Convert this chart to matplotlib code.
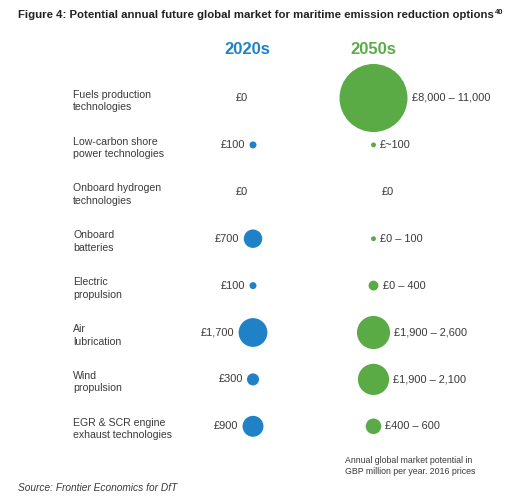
import matplotlib.pyplot as plt
import numpy as np

plt.rcParams["font.family"] = ["Liberation Sans", "DejaVu Sans"]

categories = [
    "Fuels production\ntechnologies",
    "Low-carbon shore\npower technologies",
    "Onboard hydrogen\ntechnologies",
    "Onboard\nbatteries",
    "Electric\npropulsion",
    "Air\nlubrication",
    "Wind\npropulsion",
    "EGR & SCR engine\nexhaust technologies",
]
# 2020s market (GBP million per year) and its labels
values_2020 = [0, 100, 0, 700, 100, 1700, 300, 900]
labels_2020 = ["£0", "£100", "£0", "£700", "£100", "£1,700", "£300", "£900"]
# 2050s market, mid-point of range
values_2050 = [9500, 50, 0, 50, 200, 2250, 2000, 500]
labels_2050 = ["£8,000 – 11,000", "£~100", "£0", "£0 – 100", "£0 – 400",
               "£1,900 – 2,600", "£1,900 – 2,100", "£400 – 600"]
periods = ["2020s", "2050s"]

BLUE = "#1f82c6"
GREEN = "#5aab46"
TEXT = "#3a3a3a"

W, H = 525, 503
fig = plt.figure(figsize=(W / 100, H / 100), dpi=100)
ax = fig.add_axes([0, 0, 1, 1])

# map column/row indices onto the page
col_px = 120.5
row_px = 46.9
x0, y0 = 253, 98
ax.set_xlim(-x0 / col_px, (W - x0) / col_px)
ax.set_ylim((H - y0) / row_px, -y0 / row_px)
ax.axis("off")

SCALE = 0.2523  # pt^2 per GBP million (area proportional)
FS = 7.9


def draw_column(col, vals, labs, color, side):
    for i, (v, lab) in enumerate(zip(vals, labs)):
        if v > 0:
            s = v * SCALE
            ax.scatter(col, i, s=s, color=color, edgecolors="none", zorder=3)
            r = np.sqrt(s) / 2
            off = (r + 3) * side
            ax.annotate(lab, (col, i), xytext=(off, 0), textcoords="offset points",
                        ha="right" if side < 0 else "left", va="center",
                        fontsize=FS, color=TEXT)
        else:
            ax.annotate(lab, (col, i), xytext=(-8 if side < 0 else 10, 0),
                        textcoords="offset points", ha="center", va="center",
                        fontsize=FS, color=TEXT)


draw_column(0, values_2020, labels_2020, BLUE, -1)
draw_column(1, values_2050, labels_2050, GREEN, 1)

for i, cat in enumerate(categories):
    ax.text((73 - x0) / col_px, i + 0.06, cat, ha="left", va="center",
            fontsize=7.6, color=TEXT, linespacing=1.3)

for j, (p, c) in enumerate(zip(periods, [BLUE, GREEN])):
    ax.text(j - 0.05 * (j == 0), (49 - y0) / row_px, p, ha="center", va="center",
            fontsize=12, fontweight="bold", color=c)

title = fig.text(18 / W, 1 - 15 / H,
                 "Figure 4: Potential annual future global market for maritime emission reduction options",
                 ha="left", va="center", fontsize=8.2, fontweight="bold", color="#222222")
fig.canvas.draw()
bb = title.get_window_extent()
fig.text(bb.x1 / W + 0.002, 1 - 12 / H, "40", ha="left", va="center",
         fontsize=5.5, fontweight="bold", color="#222222")
fig.text(345 / W, 1 - 466 / H,
         "Annual global market potential in\nGBP million per year. 2016 prices",
         ha="left", va="center", fontsize=6.3, color=TEXT, linespacing=1.25)
fig.text(18 / W, 1 - 488 / H, "Source: Frontier Economics for DfT",
         ha="left", va="center", fontsize=7.3, style="italic", color=TEXT)

fig.savefig("out.png", dpi=100)
